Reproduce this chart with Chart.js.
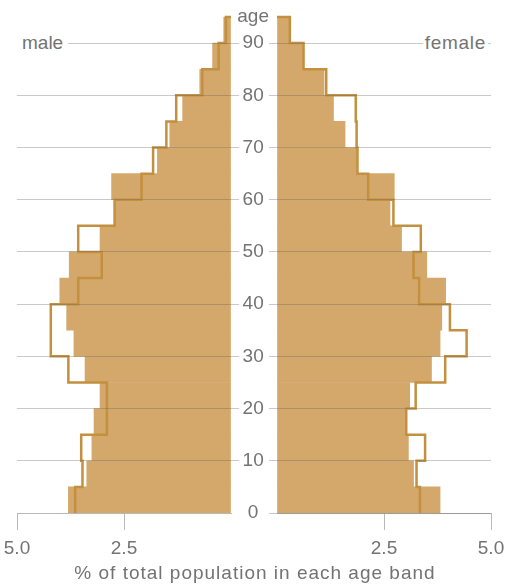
<!DOCTYPE html>
<html><head><meta charset="utf-8">
<script src="https://cdn.jsdelivr.net/npm/chart.js@4.4.1/dist/chart.umd.min.js"></script>
<style>
html,body{margin:0;padding:0;background:#fff;}
#wrap{position:relative;width:531px;height:587px;overflow:hidden;font-family:"Liberation Sans",Arial,sans-serif;color:#737373;}
canvas{position:absolute;top:0;}
#cL{left:0;width:239px;height:587px;}
#cR{left:231px;width:300px;height:587px;}
.lab{position:absolute;background:#fff;font-size:19px;line-height:22px;white-space:nowrap;}
#title{position:absolute;left:0;width:510px;top:562px;text-align:center;font-size:19px;line-height:22px;letter-spacing:1px;white-space:nowrap;}
</style></head><body>
<div id="wrap">
<canvas id="cL" width="239" height="587"></canvas>
<canvas id="cR" width="300" height="587"></canvas>
<div class="lab" style="left:17px;top:32px;padding:0 5px;">male</div>
<div class="lab" style="right:43px;top:32px;padding:0 2px;letter-spacing:0.7px;">female</div>
<div id="title">% of total population in each age band</div>
</div>
<script>
// age bands (lower bound of each 5-year band)
const bandStart = [0,5,10,15,20,25,30,35,40,45,50,55,60,65,70,75,80,85,90];
const bandWidth = 5;
// % of total population (filled bars)
const maleFilled   = [3.80,3.37,3.25,3.20,3.06,3.41,3.67,3.84,4.00,3.78,3.06,2.71,2.79,1.72,1.43,1.13,0.73,0.43,0.17];
const femaleFilled = [3.81,3.19,3.07,2.99,3.10,3.61,3.81,3.85,3.94,3.50,2.91,2.64,2.74,1.86,1.59,1.32,1.10,0.60,0.30];
// % of total population (outline)
const maleOutline   = [3.64,3.47,3.50,2.90,2.90,3.80,4.21,4.21,3.57,3.02,3.57,2.72,2.09,1.82,1.51,1.28,0.67,0.29,0.12];
const femaleOutline = [3.34,3.26,3.46,3.02,3.24,3.93,4.43,4.04,3.32,3.19,3.36,2.72,2.13,1.88,1.86,1.84,1.15,0.62,0.30];
// tick labels
const ageTicks = [0,10,20,30,40,50,60,70,80,90];
const ageTitleValue = 95;
const ageTitle = 'age';
const pctTicks = [0,2.5,5];

const FILL = 'rgb(212,168,106)';
const OUT = 'rgb(194,144,62)';
const GRID = 'rgba(100,100,100,0.35)';
const AXIS = '#b8b8b8';
const TXT = '#737373';
const FONT = '"Liberation Sans", Arial, sans-serif';
const CLEAR = 'rgba(0,0,0,0)';

function barData(vals){ return vals.map((v,i)=>({x:v, y:bandStart[i] + bandWidth/2})); }
function stepData(vals){
  const pts = [];
  vals.forEach((v,i)=>{ pts.push({x:v, y:bandStart[i]}); pts.push({x:v, y:bandStart[i] + bandWidth}); });
  pts.push({x:0, y:bandStart[bandStart.length-1] + bandWidth});
  return pts;
}

function makeChart(id, isLeft, filled, outline){
  return new Chart(document.getElementById(id), {
    type: 'bar',
    data: { datasets: [
      { type:'line', data: stepData(outline), borderColor: OUT, borderWidth: 2.5, pointRadius: 0, fill: false, tension: 0, clip: 6, order: 0 },
      { type:'bar', data: barData(filled), backgroundColor: FILL, borderWidth: 0, barPercentage: 1, categoryPercentage: 1, order: 1 }
    ]},
    options: {
      indexAxis: 'y',
      responsive: false, animation: false, devicePixelRatio: 1,
      layout: { padding: isLeft ? {left:17, right:0, top:17, bottom:0} : {left:0, right:40, top:17, bottom:0} },
      plugins: { legend: {display:false}, tooltip: {enabled:false} },
      scales: {
        x: {
          type: 'linear', min: 0, max: 5, reverse: isLeft, position: 'bottom',
          afterBuildTicks: s => { s.ticks = pctTicks.map(v => ({value: v})); },
          afterFit: s => { s.height = 74; s.paddingLeft = 0; s.paddingRight = 0; },
          grid: { drawOnChartArea: false, tickLength: 17, color: c => (c.tick && c.tick.value === 0) ? CLEAR : AXIS },
          border: { display: true, color: AXIS, width: 1, z: 1 },
          ticks: { padding: 7, color: TXT, font: {family: FONT, size: 19}, maxRotation: 0,
                   callback: v => v === 0 ? '' : v.toFixed(1) }
        },
        y: {
          type: 'linear', min: 0, max: 95, position: isLeft ? 'right' : 'left', offset: false,
          afterBuildTicks: s => {
            const t = ageTicks.map(v => ({value: v}));
            if (!isLeft) t.push({value: ageTitleValue});
            s.ticks = t;
          },
          afterFit: s => { s.width = isLeft ? 8 : 46; s.paddingTop = 0; s.paddingBottom = 0; },
          grid: { offset: false, z: 1, tickLength: 8,
                  color: c => {
                    if (!c.tick) return GRID;
                    if (c.tick.value === ageTitleValue) return CLEAR;
                    if (isLeft && c.tick.value === 0) return CLEAR;
                    return GRID;
                  } },
          border: { display: false },
          ticks: { display: !isLeft, crossAlign: 'center', padding: 0, color: TXT, font: {family: FONT, size: 19},
                   callback: v => v === ageTitleValue ? ageTitle : String(v) }
        }
      }
    }
  });
}

makeChart('cL', true, maleFilled, maleOutline);
makeChart('cR', false, femaleFilled, femaleOutline);
</script>
</body></html>
